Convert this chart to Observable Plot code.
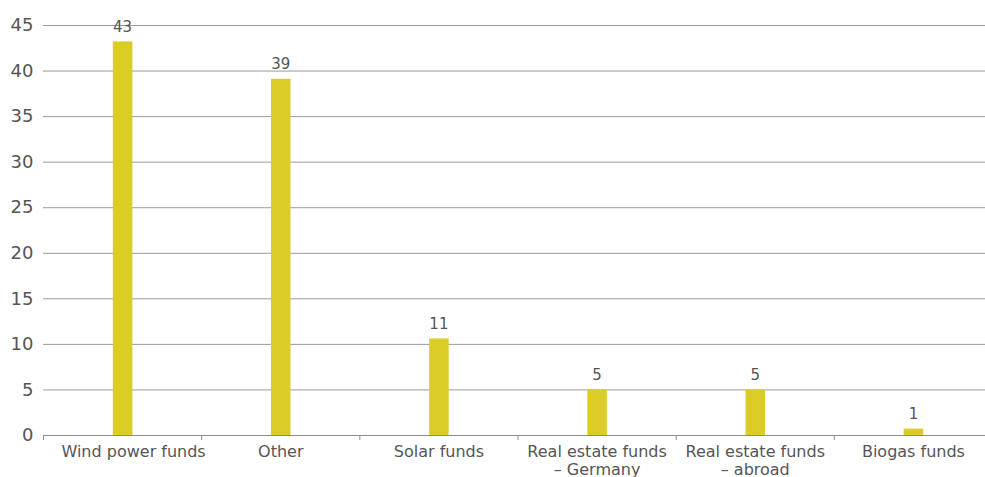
<!DOCTYPE html>
<html>
<head>
<meta charset="utf-8">
<script src="https://cdn.jsdelivr.net/npm/d3@7"></script>
<script src="https://cdn.jsdelivr.net/npm/@observablehq/plot@0.6"></script>
<style>
  html, body { margin: 0; padding: 0; background: #fff; }
  #chart svg { display: block; overflow: hidden; }
</style>
</head>
<body>
<div id="chart"></div>
<script>
const categories = ["Wind power funds", "Other", "Solar funds", "Real estate funds\n– Germany", "Real estate funds\n– abroad", "Biogas funds"];
const values = [43.2, 39.1, 10.6, 5.0, 5.0, 0.7];
const labels = ["43", "39", "11", "5", "5", "1"];
const yTicks = [0, 5, 10, 15, 20, 25, 30, 35, 40, 45];

const data = categories.map((c, i) => ({category: c, value: values[i], label: labels[i]}));

const W = 985, H = 477;
const mL = 43, mR = -7, mT = 25, mB = 42;
const step = (W - mL - mR) / categories.length;
const barW = 19.5;
const textColor = "#555555";
const axisLabelStyle = {tickSize: 0, tickPadding: 8, fontSize: 16, fill: textColor, label: null, lineHeight: 1.15};

const chart = Plot.plot({
  width: W,
  height: H,
  marginLeft: mL,
  marginRight: mR,
  marginTop: mT,
  marginBottom: mB,
  style: {fontFamily: "DejaVu Sans, Verdana, sans-serif", color: textColor, background: "#fff"},
  x: {domain: categories, padding: 0, round: false, label: null},
  y: {domain: [0, 45], label: null},
  marks: [
    Plot.ruleY(yTicks.filter(d => d > 0), {stroke: "#9a9a9a", strokeWidth: 1}),
    Plot.barY(data, {x: "category", y: "value", fill: "#dccd26", insetLeft: (step - barW) / 2 + 0.5, insetRight: (step - barW) / 2 - 0.5}),
    Plot.ruleY([0], {stroke: "#8c8c8c", strokeWidth: 1.2}),
    Plot.text(data, {x: "category", y: "value", text: "label", dy: -15, fontSize: 15, fill: textColor}),
    Plot.axisY({ticks: yTicks, tickSize: 0, tickPadding: 10, fontSize: 18, fill: textColor, label: null}),
    Plot.axisX({...axisLabelStyle, ticks: categories.slice(0, 1), dx: 11}),
    Plot.axisX({...axisLabelStyle, ticks: categories.slice(1)}),
    Plot.axisX({tickSize: 5, text: null, stroke: "#8c8c8c", dx: -step / 2, label: null})
  ]
});
document.getElementById("chart").appendChild(chart);
</script>
</body>
</html>
